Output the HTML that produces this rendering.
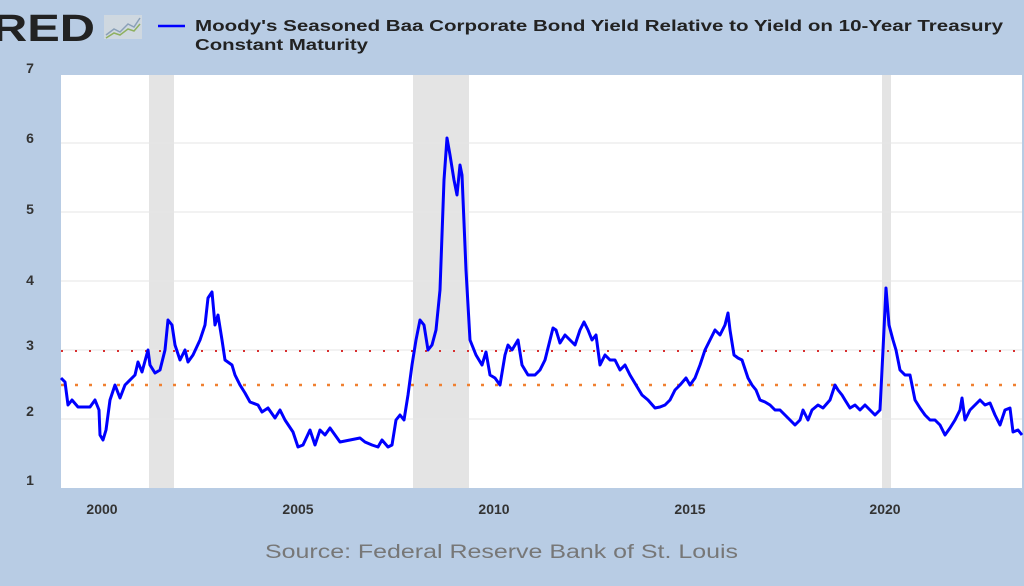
<!DOCTYPE html>
<html><head><meta charset="utf-8"><style>
html,body{margin:0;padding:0;background:#b8cce4;}
svg{display:block;}
</style></head><body>
<svg width="1024" height="586" xmlns="http://www.w3.org/2000/svg" font-family="Liberation Sans, Arial, sans-serif">
<rect width="1024" height="586" fill="#b8cce4"/>
<text x="-8" y="41" font-size="38" font-weight="bold" fill="#222" textLength="103" lengthAdjust="spacingAndGlyphs">RED</text>
<rect x="104" y="15" width="38" height="24" fill="#cfd8e0"/>
<polyline points="106,35 114,29 120,32 128,24 134,27 140,18" fill="none" stroke="#8aa0b8" stroke-width="1.5"/>
<polyline points="106,38 114,33 120,35 128,29 134,31 140,24" fill="none" stroke="#8fb060" stroke-width="1.5"/>
<line x1="158" y1="26" x2="185" y2="26" stroke="#0000ff" stroke-width="2.5"/>
<text x="195" y="31" font-size="15.5" font-weight="bold" fill="#222" textLength="808" lengthAdjust="spacingAndGlyphs">Moody's Seasoned Baa Corporate Bond Yield Relative to Yield on 10-Year Treasury</text>
<text x="195" y="50" font-size="15.5" font-weight="bold" fill="#222" textLength="173" lengthAdjust="spacingAndGlyphs">Constant Maturity</text>
<rect x="61" y="75" width="961" height="413" fill="#fff"/>
<rect x="149" y="75" width="25" height="413" fill="#e4e4e4"/>
<rect x="413" y="75" width="56" height="413" fill="#e4e4e4"/>
<rect x="882" y="75" width="9" height="413" fill="#e4e4e4"/>
<g stroke="#e6e6e6" stroke-width="1">
<line x1="61" x2="1022" y1="143" y2="143"/><line x1="61" x2="1022" y1="212" y2="212"/>
<line x1="61" x2="1022" y1="281" y2="281"/><line x1="61" x2="1022" y1="350" y2="350"/>
<line x1="61" x2="1022" y1="419" y2="419"/>
</g>
<g font-size="14" font-weight="bold" fill="#333" text-anchor="middle">
<text x="30" y="73">7</text><text x="30" y="143">6</text><text x="30" y="214">5</text>
<text x="30" y="285">4</text><text x="30" y="350">3</text><text x="30" y="416">2</text><text x="30" y="485">1</text>
<text x="102" y="514">2000</text><text x="298" y="514">2005</text><text x="494" y="514">2010</text>
<text x="690" y="514">2015</text><text x="885" y="514">2020</text>
</g>
<line x1="61" x2="1022" y1="351" y2="351" stroke="#d83030" stroke-width="2" stroke-dasharray="2,12"/>
<line x1="61" x2="1022" y1="385" y2="385" stroke="#f08030" stroke-width="2.5" stroke-dasharray="3,11"/>
<polyline fill="none" stroke="#0000ff" stroke-width="3" stroke-linejoin="round" points="61,378 65,382 68,405 72,400 78,407 90,407 95,400 99,410 100,435 103,440 106,430 110,400 115,385 120,398 125,385 135,375 138,362 142,372 148,350 150,365 155,373 160,370 165,350 168,320 172,325 175,345 180,360 185,350 188,362 193,355 200,340 205,325 208,298 212,292 215,325 218,315 222,340 225,360 232,365 235,375 240,385 245,393 250,402 258,405 262,412 268,408 275,418 280,410 285,420 293,432 298,447 303,445 310,430 315,445 320,430 325,435 330,428 335,435 340,442 350,440 360,438 365,442 372,445 378,447 382,440 388,447 392,445 396,420 400,415 404,420 408,395 412,365 416,340 420,320 424,325 428,350 432,345 436,330 440,290 444,180 447,138 450,155 454,180 457,195 460,165 462,175 466,270 470,340 476,355 482,365 486,352 490,375 495,378 500,385 505,355 508,345 512,350 518,340 522,365 528,375 535,375 540,370 545,360 550,340 553,328 556,330 560,343 565,335 570,340 575,345 580,330 584,322 588,330 592,340 596,335 600,365 605,355 610,360 615,360 620,370 625,365 630,375 636,385 642,395 648,400 655,408 660,407 665,405 670,400 675,390 680,385 686,378 690,385 695,378 700,365 705,350 710,340 715,330 720,335 725,325 728,313 730,330 734,355 738,358 742,360 748,378 752,385 756,390 760,400 765,402 770,405 775,410 780,410 785,415 790,420 795,425 800,420 803,410 808,420 812,410 818,405 823,408 830,400 835,385 838,390 842,395 845,400 850,408 855,405 860,410 865,405 870,410 875,415 880,410 883,350 886,288 889,325 893,340 896,350 900,370 905,375 910,375 915,400 920,408 925,415 930,420 935,420 940,425 945,435 950,428 955,420 960,410 962,398 965,420 970,410 975,405 980,400 985,405 990,403 995,415 1000,425 1005,410 1010,408 1013,432 1018,430 1022,435"/>
<text x="265" y="558" font-size="19" fill="#777" textLength="473" lengthAdjust="spacingAndGlyphs">Source: Federal Reserve Bank of St. Louis</text>
</svg>
</body></html>
